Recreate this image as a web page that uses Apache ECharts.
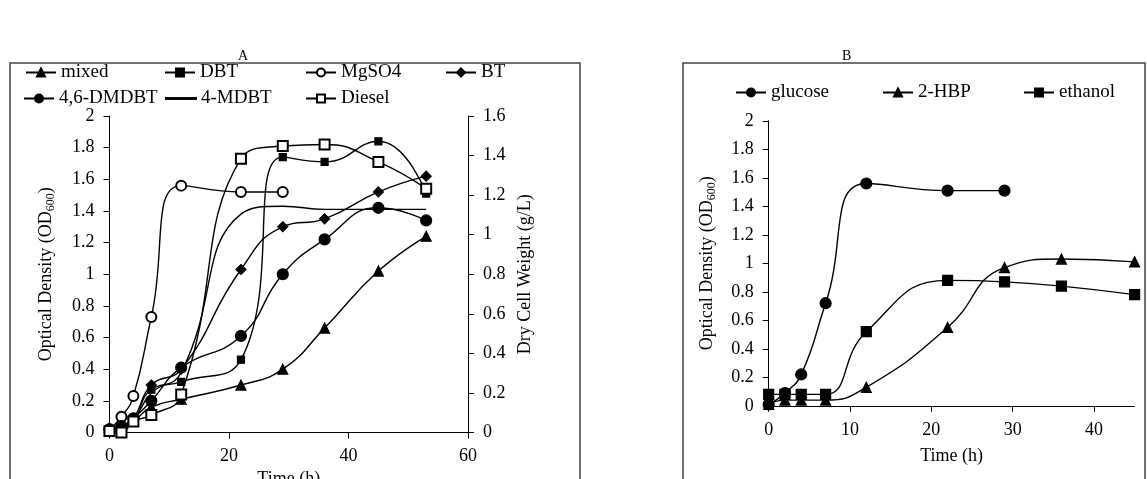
<!DOCTYPE html>
<html>
<head>
<meta charset="utf-8">
<script src="https://cdn.jsdelivr.net/npm/echarts@6/dist/echarts.min.js"></script>
<style>
html,body{margin:0;padding:0;background:#fff;}
#c{width:1147px;height:479px;}
</style>
</head>
<body>
<div id="c"></div>
<script>
// ---- Panel A data ----
const timeA = [0, 2, 4, 7, 12, 22, 29, 36, 45, 53];
const timeMg = [0, 2, 4, 7, 12, 22, 29];
const mixed = [0.01, 0.03, 0.07, 0.16, 0.21, 0.30, 0.40, 0.66, 1.02, 1.24];
const DBT = [0.01, 0.03, 0.07, 0.27, 0.32, 0.46, 1.74, 1.71, 1.84, 1.51];
const MgSO4 = [0.02, 0.10, 0.23, 0.73, 1.56, 1.52, 1.52];
const BT = [0.01, 0.04, 0.09, 0.30, 0.40, 1.03, 1.30, 1.35, 1.52, 1.62];
const DMDBT46 = [0.02, 0.04, 0.09, 0.20, 0.41, 0.61, 1.00, 1.22, 1.42, 1.34];
const MDBT4 = [0.01, 0.04, 0.08, 0.25, 0.38, 1.38, 1.43, 1.41, 1.41, 1.41];
const Diesel = [0.01, 0.0, 0.07, 0.11, 0.24, 1.73, 1.81, 1.82, 1.71, 1.54];

// ---- Panel B data ----
const timeB = [0, 2, 4, 7, 12, 22, 29, 36, 45];
const timeGlu = [0, 2, 4, 7, 12, 22, 29];
const glucose = [0.01, 0.09, 0.22, 0.72, 1.56, 1.51, 1.51];
const HBP2 = [0.01, 0.04, 0.04, 0.04, 0.13, 0.55, 0.97, 1.03, 1.01];
const ethanol = [0.08, 0.08, 0.08, 0.08, 0.52, 0.88, 0.87, 0.84, 0.78];

const FONT = '"Liberation Serif", "Times New Roman", serif';
const pairs = (xs, ys) => ys.map((v, i) => [xs[i], v]);

const chart = echarts.init(document.getElementById('c'), null, {renderer: 'canvas'});

function lineSeries(name, xs, ys, symbol, size, gi, yi) {
  return {
    name: name, type: 'line', xAxisIndex: gi, yAxisIndex: yi,
    data: pairs(xs, ys), smooth: 0.5,
    symbol: symbol, symbolSize: size, showSymbol: symbol !== 'none',
    lineStyle: {color: '#000', width: 1.4},
    itemStyle: {color: '#000', borderColor: '#000', borderWidth: 1.2},
    emphasis: {disabled: true}, z: 3
  };
}

function legendAt(name, left, top, icon) {
  const item = icon ? {name: name, icon: icon} : name;
  return {
    data: [item], left: left, top: top, itemWidth: 30, itemHeight: 10, itemGap: 0,
    textStyle: {fontFamily: FONT, fontSize: 19, color: '#000'},
    selectedMode: false, padding: 0
  };
}

const axisCommon = {
  axisLine: {show: true, lineStyle: {color: '#000', width: 1}},
  axisTick: {show: true, inside: false, length: 6, lineStyle: {color: '#000'}},
  splitLine: {show: false},
  axisLabel: {fontFamily: FONT, fontSize: 18, color: '#000', margin: 15},
  nameTextStyle: {fontFamily: FONT, fontSize: 18, color: '#000'}
};
const subRich = {sub: {fontFamily: FONT, fontSize: 12, verticalAlign: 'bottom', padding: [8, 0, 0, 0]}};

const option = {
  animation: false,
  backgroundColor: '#fff',
  textStyle: {fontFamily: FONT},
  title: [
    {text: 'A', left: 233, top: 44, textStyle: {fontFamily: FONT, fontSize: 14, fontWeight: 'normal', color: '#000'}},
    {text: 'B', left: 837, top: 44, textStyle: {fontFamily: FONT, fontSize: 14, fontWeight: 'normal', color: '#000'}}
  ],
  graphic: [
    {type: 'rect', shape: {x: 10, y: 63, width: 570, height: 500}, style: {fill: 'none', stroke: '#444', lineWidth: 1.5}, silent: true},
    {type: 'rect', shape: {x: 683, y: 63, width: 462, height: 500}, style: {fill: 'none', stroke: '#444', lineWidth: 1.5}, silent: true}
  ],
  legend: [
    legendAt('mixed', 25, 63),
    legendAt('DBT', 164, 63),
    legendAt('MgSO4', 305, 63),
    legendAt('BT', 445, 63),
    legendAt('4,6-DMDBT', 23, 89),
    legendAt('4-MDBT', 165, 89, 'path://M0,0 L30,0 L30,0.9 L0,0.9 Z'),
    legendAt('Diesel', 305, 89),
    legendAt('glucose', 735, 83),
    legendAt('2-HBP', 882, 83),
    legendAt('ethanol', 1023, 83)
  ],
  grid: [
    {left: 109.5, top: 116, width: 358.5, height: 316.5, outerBoundsMode: 'none', containLabel: false},
    {left: 768.7, top: 120.8, width: 365.9, height: 285, outerBoundsMode: 'none', containLabel: false}
  ],
  xAxis: [
    Object.assign({}, axisCommon, {
      type: 'value', gridIndex: 0, min: 0, max: 60, interval: 20,
      name: 'Time (h)', nameLocation: 'middle', nameGap: 34
    }),
    Object.assign({}, axisCommon, {
      type: 'value', gridIndex: 1, min: 0, max: 45, interval: 10,
      axisLabel: Object.assign({}, axisCommon.axisLabel, {showMaxLabel: false}),
      name: 'Time (h)', nameLocation: 'middle', nameGap: 41
    })
  ],
  yAxis: [
    Object.assign({}, axisCommon, {
      type: 'value', gridIndex: 0, min: 0, max: 2, interval: 0.2, position: 'left',
      name: 'Optical Density (OD{sub|600})', nameLocation: 'middle', nameGap: 53, nameRotate: 90,
      nameTextStyle: {fontFamily: FONT, fontSize: 18, color: '#000', rich: subRich}
    }),
    Object.assign({}, axisCommon, {
      type: 'value', gridIndex: 0, min: 0, max: 1.6, interval: 0.2, position: 'right',
      name: 'Dry Cell Weight (g/L)', nameLocation: 'middle', nameGap: 48, nameRotate: 90
    }),
    Object.assign({}, axisCommon, {
      type: 'value', gridIndex: 1, min: 0, max: 2, interval: 0.2, position: 'left',
      name: 'Optical Density (OD{sub|600})', nameLocation: 'middle', nameGap: 51, nameRotate: 90,
      nameTextStyle: {fontFamily: FONT, fontSize: 18, color: '#000', rich: subRich}
    })
  ],
  series: [
    lineSeries('mixed', timeA, mixed, 'triangle', 10, 0, 0),
    lineSeries('DBT', timeA, DBT, 'rect', 7, 0, 0),
    lineSeries('MgSO4', timeMg, MgSO4, 'emptyCircle', 10, 0, 0),
    lineSeries('BT', timeA, BT, 'diamond', 10, 0, 0),
    lineSeries('4,6-DMDBT', timeA, DMDBT46, 'circle', 11, 0, 0),
    lineSeries('4-MDBT', timeA, MDBT4, 'none', 0, 0, 0),
    lineSeries('Diesel', timeA, Diesel, 'emptyRect', 10, 0, 0),
    lineSeries('glucose', timeGlu, glucose, 'circle', 11, 1, 2),
    lineSeries('2-HBP', timeB, HBP2, 'triangle', 10, 1, 2),
    lineSeries('ethanol', timeB, ethanol, 'rect', 10, 1, 2)
  ]
};
chart.setOption(option);
</script>
</body>
</html>
